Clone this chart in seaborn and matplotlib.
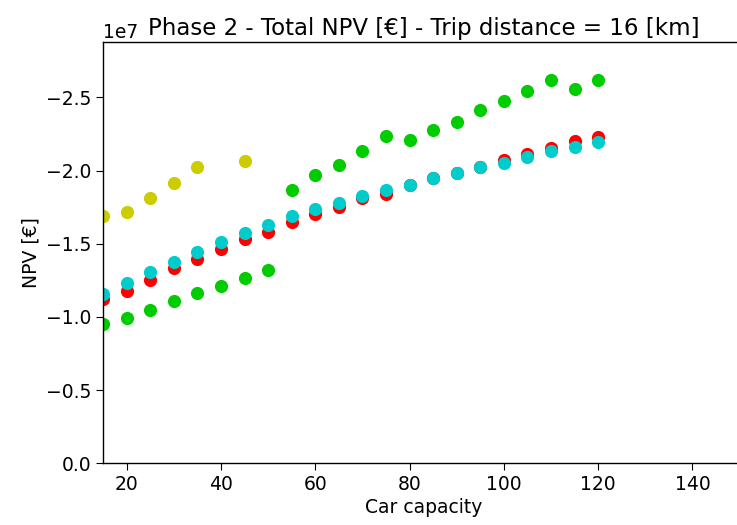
import matplotlib
matplotlib.use("Agg")
import matplotlib.pyplot as plt
import seaborn as sns
import pandas as pd

# Data (NPV in units of 1e7 €, negative)
cap_full = [15, 20, 25, 30, 35, 40, 45, 50, 55, 60, 65, 70, 75, 80, 85, 90, 95, 100, 105, 110, 115, 120]
red_npv = [-1.121, -1.178, -1.253, -1.333, -1.396, -1.465, -1.531, -1.583, -1.647, -1.704,
           -1.754, -1.811, -1.841, -1.902, -1.948, -1.986, -2.027, -2.073, -2.112, -2.153, -2.203, -2.232]
cyan_npv = [-1.155, -1.230, -1.310, -1.378, -1.446, -1.511, -1.576, -1.629, -1.686, -1.736,
            -1.777, -1.829, -1.868, -1.902, -1.948, -1.986, -2.027, -2.050, -2.092, -2.130, -2.160, -2.198]
green_npv = [-0.950, -0.991, -1.048, -1.111, -1.164, -1.214, -1.269, -1.321, -1.868, -1.971,
             -2.039, -2.130, -2.237, -2.210, -2.278, -2.328, -2.410, -2.476, -2.540, -2.620, -2.556, -2.620]
cap_yellow = [15, 20, 25, 30, 35, 45]
yellow_npv = [-1.686, -1.720, -1.815, -1.918, -2.027, -2.066]

series_names = ["red", "green", "cyan", "yellow"]
series_colors = {"red": "#ff0000", "green": "#00cc00", "cyan": "#00cccc", "yellow": "#cccc00"}

frames = [
    pd.DataFrame({"cap": cap_full, "npv": red_npv, "series": "red"}),
    pd.DataFrame({"cap": cap_full, "npv": green_npv, "series": "green"}),
    pd.DataFrame({"cap": cap_full, "npv": cyan_npv, "series": "cyan"}),
    pd.DataFrame({"cap": cap_yellow, "npv": yellow_npv, "series": "yellow"}),
]
df = pd.concat(frames, ignore_index=True)
df["npv"] = df["npv"] * 1e7

plt.rcParams["font.family"] = ["DejaVu Sans"]
fig = plt.figure(figsize=(7.37, 5.25), dpi=100)
ax = fig.add_axes([0.1398, 0.1175, 0.8702, 0.8031])

for name in series_names:
    sub = df[df["series"] == name]
    sns.scatterplot(data=sub, x="cap", y="npv", color=series_colors[name],
                    s=90, linewidth=0, ax=ax, legend=False)

ax.set_xlim(15, 151)
ax.set_ylim(0, -2.88e7)
ax.set_xticks([20, 40, 60, 80, 100, 120, 140])
ax.set_yticks([0, -0.5e7, -1.0e7, -1.5e7, -2.0e7, -2.5e7])
ax.tick_params(labelsize=13.5, length=5)
ax.yaxis.get_offset_text().set_fontsize(13.5)
ax.set_xlabel("Car capacity", fontsize=13.5, labelpad=3)
ax.set_ylabel("NPV [€]", fontsize=13.5, labelpad=4)
ax.set_title("Phase 2 - Total NPV [€] - Trip distance = 16 [km]", fontsize=16.5, pad=5)
for sp in ax.spines.values():
    sp.set_linewidth(1.0)

fig.savefig("out.png", dpi=100)
